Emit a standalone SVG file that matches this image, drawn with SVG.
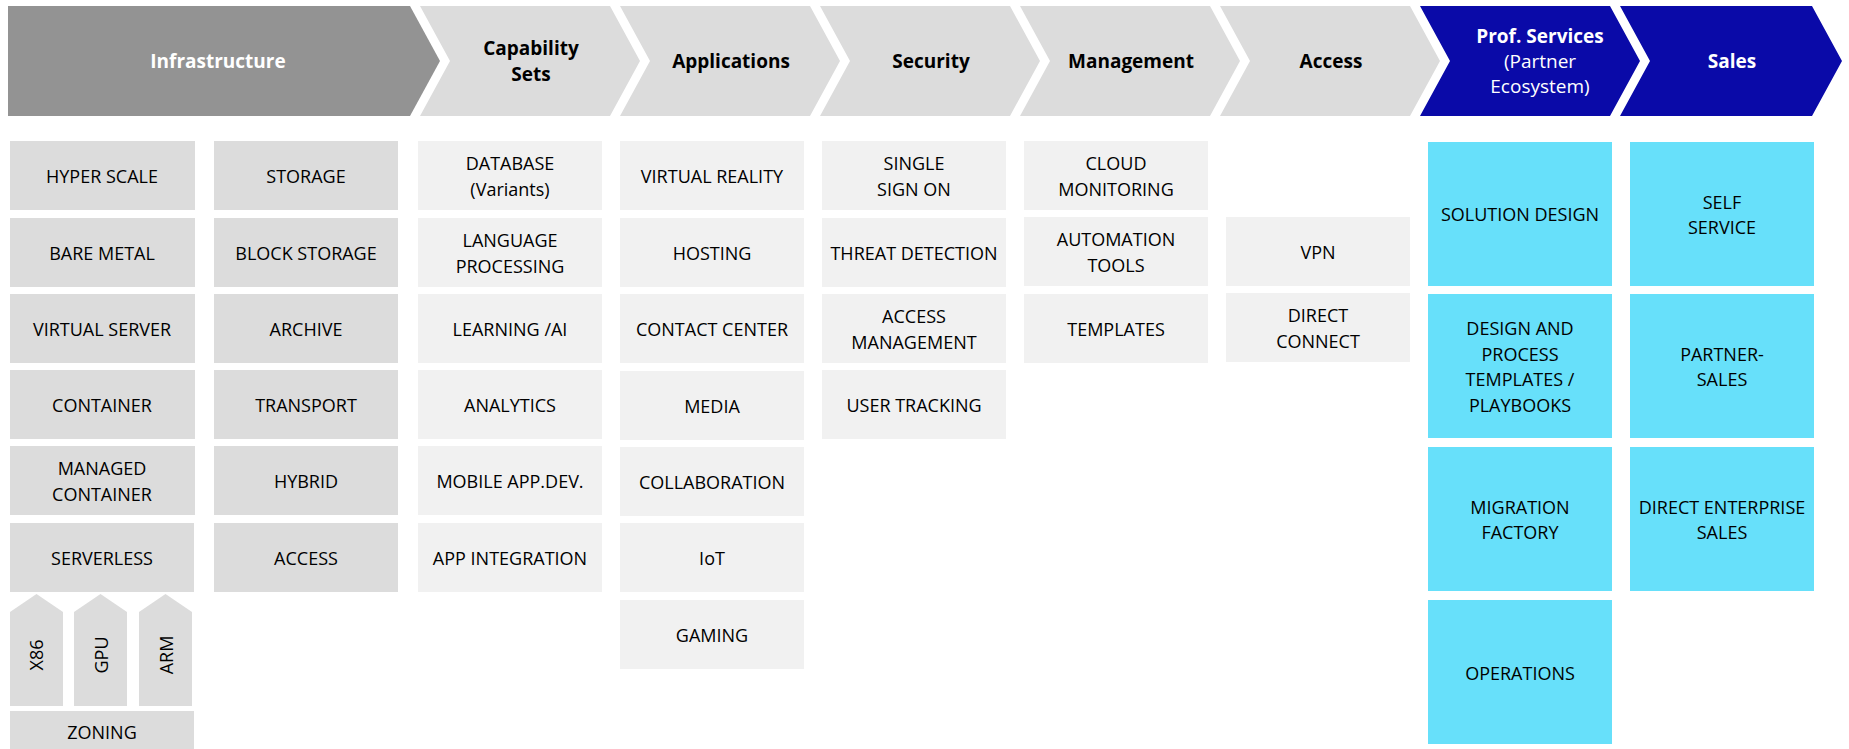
<svg xmlns="http://www.w3.org/2000/svg" width="1849" height="749" viewBox="0 0 1849 749">
<style>
.hd{fill:#dcdcdc}
.hdark{fill:#939393}
.hblue{fill:#0a0aa8}
.ht{font-family:"Open Sans","Liberation Sans",sans-serif;font-weight:bold;font-size:19px;text-anchor:middle;dominant-baseline:central;fill:#000}
.htw{fill:#fff}
.hsub{font-weight:normal}
.bi{fill:#dcdcdc}
.bl{fill:#f1f1f1}
.bc{fill:#67e0fa}
.t{font-family:"Open Sans","Liberation Sans",sans-serif;font-size:18px;text-anchor:middle;dominant-baseline:central;fill:#000}
</style>
<rect x="0" y="0" width="1849" height="749" fill="#fff"/>
<g id="headers">
<g id="h-infrastructure"><path class="hdark" d="M8,6 L410,6 L440,61 L410,116 L8,116 Z"/><text class="ht htw" x="218" y="61">Infrastructure</text></g>
<g id="h-capability"><path class="hd" d="M420,6 L610,6 L640,61 L610,116 L420,116 L450,61 Z"/><text class="ht" x="531" y="48">Capability</text><text class="ht" x="531" y="74">Sets</text></g>
<g id="h-applications"><path class="hd" d="M620,6 L810,6 L840,61 L810,116 L620,116 L650,61 Z"/><text class="ht" x="731" y="61">Applications</text></g>
<g id="h-security"><path class="hd" d="M820,6 L1010,6 L1040,61 L1010,116 L820,116 L850,61 Z"/><text class="ht" x="931" y="61">Security</text></g>
<g id="h-management"><path class="hd" d="M1020,6 L1210,6 L1240,61 L1210,116 L1020,116 L1050,61 Z"/><text class="ht" x="1131" y="61">Management</text></g>
<g id="h-access"><path class="hd" d="M1220,6 L1410,6 L1440,61 L1410,116 L1220,116 L1250,61 Z"/><text class="ht" x="1331" y="61">Access</text></g>
<g id="h-prof"><path class="hblue" d="M1420,6 L1610,6 L1640,61 L1610,116 L1420,116 L1450,61 Z"/><text class="ht htw" x="1540" y="36">Prof. Services</text><text class="ht htw hsub" x="1540" y="61">(Partner</text><text class="ht htw hsub" x="1540" y="86">Ecosystem)</text></g>
<g id="h-sales"><path class="hblue" d="M1620,6 L1812,6 L1842,61 L1812,116 L1620,116 L1650,61 Z"/><text class="ht htw" x="1732" y="61">Sales</text></g>
</g>
<g id="infrastructure">
<g id="n-hyperscale"><rect class="bi" x="10" y="141" width="185" height="69"/><text class="t" x="102" y="175.5">HYPER SCALE</text></g>
<g id="n-baremetal"><rect class="bi" x="10" y="218" width="185" height="69"/><text class="t" x="102" y="252.5">BARE METAL</text></g>
<g id="n-virtualserver"><rect class="bi" x="10" y="294" width="185" height="69"/><text class="t" x="102" y="328.5">VIRTUAL SERVER</text></g>
<g id="n-container"><rect class="bi" x="10" y="370" width="185" height="69"/><text class="t" x="102" y="404.5">CONTAINER</text></g>
<g id="n-managedcontainer"><rect class="bi" x="10" y="446" width="185" height="69"/><text class="t" x="102" y="468">MANAGED</text><text class="t" x="102" y="494">CONTAINER</text></g>
<g id="n-serverless"><rect class="bi" x="10" y="523" width="184" height="69"/><text class="t" x="102" y="557.5">SERVERLESS</text></g>
<g id="n-x86"><path class="bi" d="M10,612 L36.5,594 L63,612 L63,706 L10,706 Z"/><text class="t" transform="translate(36,655) rotate(-90)" x="0" y="0">X86</text></g>
<g id="n-gpu"><path class="bi" d="M74,612 L100.5,594 L127,612 L127,706 L74,706 Z"/><text class="t" transform="translate(101,655) rotate(-90)" x="0" y="0">GPU</text></g>
<g id="n-arm"><path class="bi" d="M139,612 L165.5,594 L192,612 L192,706 L139,706 Z"/><text class="t" transform="translate(166,655) rotate(-90)" x="0" y="0">ARM</text></g>
<g id="n-zoning"><rect class="bi" x="10" y="711" width="184" height="38"/><text class="t" x="102" y="732">ZONING</text></g>
<g id="n-storage"><rect class="bi" x="214" y="141" width="184" height="69"/><text class="t" x="306" y="175.5">STORAGE</text></g>
<g id="n-blockstorage"><rect class="bi" x="214" y="218" width="184" height="69"/><text class="t" x="306" y="252.5">BLOCK STORAGE</text></g>
<g id="n-archive"><rect class="bi" x="214" y="294" width="184" height="69"/><text class="t" x="306" y="328.5">ARCHIVE</text></g>
<g id="n-transport"><rect class="bi" x="214" y="370" width="184" height="69"/><text class="t" x="306" y="404.5">TRANSPORT</text></g>
<g id="n-hybrid"><rect class="bi" x="214" y="446" width="184" height="69"/><text class="t" x="306" y="480.5">HYBRID</text></g>
<g id="n-access-infra"><rect class="bi" x="214" y="523" width="184" height="69"/><text class="t" x="306" y="557.5">ACCESS</text></g>
</g>
<g id="capability">
<g id="n-database"><rect class="bl" x="418" y="141" width="184" height="69"/><text class="t" x="510" y="163">DATABASE</text><text class="t" x="510" y="189">(Variants)</text></g>
<g id="n-language"><rect class="bl" x="418" y="218" width="184" height="69"/><text class="t" x="510" y="240">LANGUAGE</text><text class="t" x="510" y="266">PROCESSING</text></g>
<g id="n-learning"><rect class="bl" x="418" y="294" width="184" height="69"/><text class="t" x="510" y="328.5">LEARNING /AI</text></g>
<g id="n-analytics"><rect class="bl" x="418" y="370" width="184" height="69"/><text class="t" x="510" y="404.5">ANALYTICS</text></g>
<g id="n-mobile"><rect class="bl" x="418" y="446" width="184" height="69"/><text class="t" x="510" y="480.5">MOBILE APP.DEV.</text></g>
<g id="n-appintegration"><rect class="bl" x="418" y="523" width="184" height="69"/><text class="t" x="510" y="557.5">APP INTEGRATION</text></g>
</g>
<g id="applications">
<g id="n-vr"><rect class="bl" x="620" y="141" width="184" height="69"/><text class="t" x="712" y="175.5">VIRTUAL REALITY</text></g>
<g id="n-hosting"><rect class="bl" x="620" y="218" width="184" height="69"/><text class="t" x="712" y="252.5">HOSTING</text></g>
<g id="n-contactcenter"><rect class="bl" x="620" y="294" width="184" height="69"/><text class="t" x="712" y="328.5">CONTACT CENTER</text></g>
<g id="n-media"><rect class="bl" x="620" y="371" width="184" height="69"/><text class="t" x="712" y="405.5">MEDIA</text></g>
<g id="n-collaboration"><rect class="bl" x="620" y="447" width="184" height="69"/><text class="t" x="712" y="481.5">COLLABORATION</text></g>
<g id="n-iot"><rect class="bl" x="620" y="523" width="184" height="69"/><text class="t" x="712" y="557.5">IoT</text></g>
<g id="n-gaming"><rect class="bl" x="620" y="600" width="184" height="69"/><text class="t" x="712" y="634.5">GAMING</text></g>
</g>
<g id="security">
<g id="n-sso"><rect class="bl" x="822" y="141" width="184" height="69"/><text class="t" x="914" y="163">SINGLE</text><text class="t" x="914" y="189">SIGN ON</text></g>
<g id="n-threat"><rect class="bl" x="822" y="218" width="184" height="69"/><text class="t" x="914" y="252.5">THREAT DETECTION</text></g>
<g id="n-accessmgmt"><rect class="bl" x="822" y="294" width="184" height="69"/><text class="t" x="914" y="316">ACCESS</text><text class="t" x="914" y="342">MANAGEMENT</text></g>
<g id="n-usertracking"><rect class="bl" x="822" y="370" width="184" height="69"/><text class="t" x="914" y="404.5">USER TRACKING</text></g>
</g>
<g id="management">
<g id="n-cloudmon"><rect class="bl" x="1024" y="141" width="184" height="69"/><text class="t" x="1116" y="163">CLOUD</text><text class="t" x="1116" y="189">MONITORING</text></g>
<g id="n-automation"><rect class="bl" x="1024" y="217" width="184" height="69"/><text class="t" x="1116" y="239">AUTOMATION</text><text class="t" x="1116" y="265">TOOLS</text></g>
<g id="n-templates"><rect class="bl" x="1024" y="294" width="184" height="69"/><text class="t" x="1116" y="328.5">TEMPLATES</text></g>
</g>
<g id="access">
<g id="n-vpn"><rect class="bl" x="1226" y="217" width="184" height="69"/><text class="t" x="1318" y="251.5">VPN</text></g>
<g id="n-directconnect"><rect class="bl" x="1226" y="293" width="184" height="69"/><text class="t" x="1318" y="315">DIRECT</text><text class="t" x="1318" y="341">CONNECT</text></g>
</g>
<g id="profservices">
<g id="n-solutiondesign"><rect class="bc" x="1428" y="142" width="184" height="144"/><text class="t" x="1520" y="214">SOLUTION DESIGN</text></g>
<g id="n-designprocess"><rect class="bc" x="1428" y="294" width="184" height="144"/><text class="t" x="1520" y="328">DESIGN AND</text><text class="t" x="1520" y="354">PROCESS</text><text class="t" x="1520" y="379">TEMPLATES /</text><text class="t" x="1520" y="405">PLAYBOOKS</text></g>
<g id="n-migration"><rect class="bc" x="1428" y="447" width="184" height="144"/><text class="t" x="1520" y="507">MIGRATION</text><text class="t" x="1520" y="532">FACTORY</text></g>
<g id="n-operations"><rect class="bc" x="1428" y="600" width="184" height="144"/><text class="t" x="1520" y="673">OPERATIONS</text></g>
</g>
<g id="sales">
<g id="n-selfservice"><rect class="bc" x="1630" y="142" width="184" height="144"/><text class="t" x="1722" y="202">SELF</text><text class="t" x="1722" y="227">SERVICE</text></g>
<g id="n-partnersales"><rect class="bc" x="1630" y="294" width="184" height="144"/><text class="t" x="1722" y="354">PARTNER-</text><text class="t" x="1722" y="379">SALES</text></g>
<g id="n-directsales"><rect class="bc" x="1630" y="447" width="184" height="144"/><text class="t" x="1722" y="507">DIRECT ENTERPRISE</text><text class="t" x="1722" y="532">SALES</text></g>
</g>
<g id="connectors"></g>
</svg>
